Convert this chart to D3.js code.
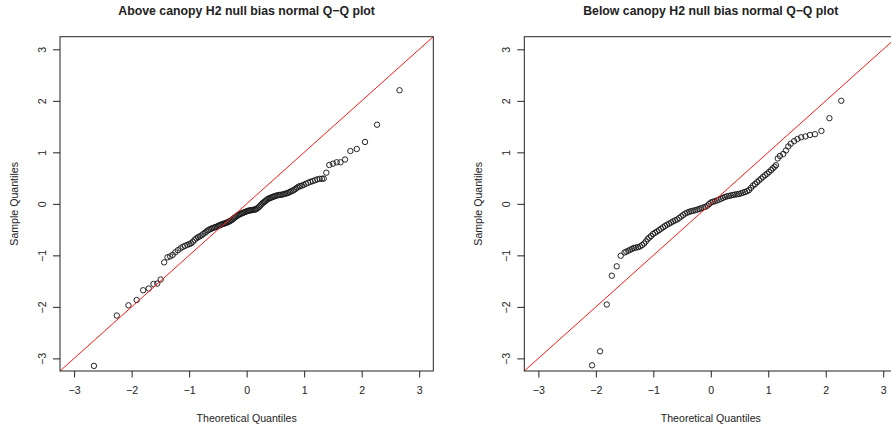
<!DOCTYPE html>
<html>
<head>
<meta charset="utf-8">
<script src="https://cdn.jsdelivr.net/npm/d3@7"></script>
<style>
  html, body { margin: 0; padding: 0; background: #fff; }
  svg { display: block; font-family: "Liberation Sans", Arial, Helvetica, sans-serif; }
</style>
</head>
<body>
<svg id="chart" width="891" height="426"></svg>
<script>
// Panel titles and axis text
const panelTitles = [
  "Above canopy H2 null bias normal Q\u2212Q plot",
  "Below canopy H2 null bias normal Q\u2212Q plot"
];
const xAxisTitle = "Theoretical Quantiles";
const yAxisTitle = "Sample Quantiles";
const tickValues = [-3, -2, -1, 0, 1, 2, 3];
const axisLimits = [-3.245, 3.245];

// Above canopy: theoretical vs. sample quantiles (sorted)
const aboveTheoretical = [
  -2.655, -2.258, -2.055, -1.912, -1.799, -1.703, -1.620, -1.554, -1.495, -1.434, -1.377,
  -1.33, -1.285, -1.24, -1.195, -1.15, -1.11, -1.07, -1.03,
  -0.995, -0.965, -0.935, -0.905, -0.875, -0.845, -0.815, -0.785, -0.755, -0.725, -0.70, -0.675, -0.65, -0.625, -0.60, -0.575, -0.55, -0.525,
  -0.50, -0.48, -0.46, -0.44, -0.42, -0.40, -0.38, -0.36, -0.34, -0.32, -0.30, -0.28, -0.26, -0.24, -0.22, -0.20, -0.18, -0.16, -0.14, -0.12, -0.10, -0.08, -0.06, -0.04, -0.02,
  0.00, 0.02, 0.04, 0.06, 0.08, 0.10, 0.12, 0.14, 0.16, 0.18, 0.20, 0.22, 0.24, 0.26, 0.28, 0.30, 0.32, 0.34, 0.36, 0.38, 0.40, 0.42, 0.44, 0.46, 0.48, 0.50,
  0.525, 0.55, 0.575, 0.60, 0.625, 0.65, 0.675, 0.70, 0.725, 0.75, 0.775, 0.80, 0.825, 0.85, 0.875, 0.90, 0.93, 0.96, 0.99,
  1.03, 1.07, 1.11, 1.15, 1.19, 1.23, 1.27, 1.31, 1.34,
  1.385, 1.437, 1.502, 1.566, 1.632, 1.710, 1.803, 1.914, 2.058, 2.267, 2.658
];
const aboveSample = [
  -3.146, -2.168, -1.970, -1.867, -1.677, -1.644, -1.556, -1.547, -1.469, -1.135, -1.038,
  -1.02, -0.99, -0.94, -0.90, -0.865, -0.835, -0.815, -0.795,
  -0.78, -0.765, -0.735, -0.70, -0.67, -0.648, -0.63, -0.612, -0.585, -0.56, -0.54, -0.515, -0.50, -0.487, -0.474, -0.464, -0.455, -0.445,
  -0.432, -0.421, -0.411, -0.401, -0.394, -0.387, -0.379, -0.371, -0.362, -0.352, -0.340, -0.327, -0.314, -0.296, -0.277, -0.260, -0.244, -0.229, -0.214, -0.203, -0.192, -0.182, -0.173, -0.163, -0.155,
  -0.146, -0.137, -0.131, -0.127, -0.123, -0.119, -0.115, -0.111, -0.107, -0.090, -0.073, -0.055, -0.030, -0.005, 0.017, 0.033, 0.050, 0.068, 0.086, 0.101, 0.110, 0.119, 0.128, 0.137, 0.146, 0.153,
  0.163, 0.169, 0.173, 0.177, 0.182, 0.190, 0.198, 0.206, 0.216, 0.229, 0.243, 0.257, 0.272, 0.290, 0.313, 0.333, 0.344, 0.355, 0.368,
  0.391, 0.410, 0.428, 0.442, 0.459, 0.477, 0.485, 0.488, 0.490,
  0.605, 0.754, 0.780, 0.807, 0.807, 0.861, 1.026, 1.065, 1.201, 1.537, 2.205
];

// Below canopy: theoretical vs. sample quantiles (sorted)
const belowTheoretical = [
  -2.066, -1.927, -1.810, -1.722, -1.637, -1.567, -1.501,
  -1.47, -1.435, -1.40, -1.37, -1.335, -1.30, -1.265, -1.23, -1.195, -1.16,
  -1.13, -1.10, -1.07, -1.04, -1.005, -0.97, -0.935, -0.90, -0.865, -0.83,
  -0.795, -0.76, -0.725, -0.69, -0.655, -0.62, -0.585, -0.55, -0.515, -0.48,
  -0.445, -0.41, -0.375, -0.34, -0.305, -0.27, -0.235, -0.20, -0.165, -0.13,
  -0.095, -0.06, -0.03,
  0.00, 0.035, 0.07, 0.105, 0.14, 0.175, 0.21, 0.245, 0.28, 0.315,
  0.35, 0.385, 0.42, 0.455, 0.49, 0.525, 0.56, 0.595, 0.63, 0.665,
  0.70, 0.735, 0.77, 0.805, 0.84, 0.875, 0.91, 0.945, 0.98, 1.015,
  1.05, 1.08, 1.11, 1.135,
  1.165, 1.203, 1.261, 1.308, 1.348, 1.391, 1.450, 1.508, 1.572, 1.647, 1.725, 1.812, 1.925, 2.064, 2.270
];
const belowSample = [
  -3.135, -2.863, -1.954, -1.395, -1.213, -1.007, -0.945,
  -0.928, -0.91, -0.89, -0.872, -0.857, -0.847, -0.841, -0.826, -0.80, -0.77,
  -0.73, -0.685, -0.655, -0.625, -0.585, -0.56, -0.536, -0.51, -0.483, -0.455,
  -0.428, -0.404, -0.384, -0.363, -0.34, -0.32, -0.303, -0.275, -0.245, -0.215,
  -0.188, -0.17, -0.155, -0.142, -0.133, -0.123, -0.112, -0.099, -0.085, -0.07,
  -0.058, -0.035, -0.005,
  0.025, 0.04, 0.05, 0.065, 0.08, 0.098, 0.115, 0.133, 0.145, 0.153,
  0.163, 0.173, 0.18, 0.186, 0.192, 0.204, 0.217, 0.23, 0.245, 0.268,
  0.31, 0.355, 0.385, 0.42, 0.455, 0.49, 0.525, 0.555, 0.585, 0.62,
  0.655, 0.69, 0.72, 0.75,
  0.881, 0.929, 0.968, 1.036, 1.114, 1.168, 1.217, 1.259, 1.292, 1.308, 1.337, 1.352, 1.415, 1.663, 2.001
];

const svg = d3.select("#chart");
svg.append("rect").attr("width", 891).attr("height", 426).attr("fill", "#fff");

const panels = [
  { title: panelTitles[0], xs: aboveTheoretical, ys: aboveSample, left: 60, right: 433.3 },
  { title: panelTitles[1], xs: belowTheoretical, ys: belowSample, left: 524.3, right: 897.3 }
];
const plotTop = 36.7, plotBottom = 371;
const fontSize = 10.6;
const intFormat = d3.format("d");

panels.forEach((p, i) => {
  const x = d3.scaleLinear().domain(axisLimits).range([p.left, p.right]);
  const y = d3.scaleLinear().domain(axisLimits).range([plotBottom, plotTop]);
  const g = svg.append("g").attr("class", "panel");
  const clipId = "clip" + i;

  g.append("clipPath").attr("id", clipId)
    .append("rect")
    .attr("x", p.left).attr("y", plotTop)
    .attr("width", p.right - p.left).attr("height", plotBottom - plotTop);

  // Points
  const pts = d3.zip(p.xs, p.ys);
  g.append("g").attr("clip-path", `url(#${clipId})`)
    .selectAll("circle").data(pts).join("circle")
    .attr("cx", d => x(d[0]))
    .attr("cy", d => y(d[1]))
    .attr("r", 2.7)
    .attr("fill", "none")
    .attr("stroke", "#1a1a1a")
    .attr("stroke-width", 0.95);

  // Reference line y = x
  g.append("line")
    .attr("clip-path", `url(#${clipId})`)
    .attr("x1", x(axisLimits[0])).attr("y1", y(axisLimits[0]))
    .attr("x2", x(axisLimits[1])).attr("y2", y(axisLimits[1]))
    .attr("stroke", "#ff1a1a")
    .attr("stroke-width", 1);

  // Plot frame
  g.append("rect")
    .attr("x", p.left).attr("y", plotTop)
    .attr("width", p.right - p.left).attr("height", plotBottom - plotTop)
    .attr("fill", "none").attr("stroke", "#222").attr("stroke-width", 1);

  // Bottom axis
  const xAxis = g.append("g")
    .attr("transform", `translate(0,${plotBottom})`)
    .call(d3.axisBottom(x).tickValues(tickValues).tickFormat(intFormat)
      .tickSize(6.5).tickPadding(9).tickSizeOuter(0));
  xAxis.select(".domain").remove();
  xAxis.selectAll(".tick line").attr("stroke", "#222");
  xAxis.selectAll(".tick text")
    .attr("font-family", "Liberation Sans, Arial, sans-serif")
    .attr("font-size", fontSize).attr("fill", "#222");

  // Left axis, labels rotated parallel to the axis
  const yAxis = g.append("g")
    .attr("transform", `translate(${p.left},0)`)
    .call(d3.axisLeft(y).tickValues(tickValues).tickFormat(intFormat)
      .tickSize(7).tickSizeOuter(0));
  yAxis.select(".domain").remove();
  yAxis.selectAll(".tick line").attr("stroke", "#222");
  yAxis.selectAll(".tick text")
    .attr("x", null)
    .attr("text-anchor", "middle")
    .attr("transform", "translate(-17.6,0) rotate(-90)")
    .attr("dy", "0.35em")
    .attr("font-family", "Liberation Sans, Arial, sans-serif")
    .attr("font-size", fontSize).attr("fill", "#222");

  const cx = (p.left + p.right) / 2;
  const cy = (plotTop + plotBottom) / 2;

  g.append("text")
    .attr("x", cx).attr("y", 15.2)
    .attr("text-anchor", "middle")
    .attr("font-weight", "bold")
    .attr("font-size", 12.3)
    .attr("fill", "#222")
    .text(p.title);

  g.append("text")
    .attr("x", cx).attr("y", 421.5)
    .attr("text-anchor", "middle")
    .attr("font-size", fontSize)
    .attr("fill", "#222")
    .text(xAxisTitle);

  g.append("text")
    .attr("transform", `translate(${p.left - 46},${cy}) rotate(-90)`)
    .attr("text-anchor", "middle")
    .attr("dy", "0.35em")
    .attr("font-size", fontSize)
    .attr("fill", "#222")
    .text(yAxisTitle);
});
</script>
</body>
</html>
